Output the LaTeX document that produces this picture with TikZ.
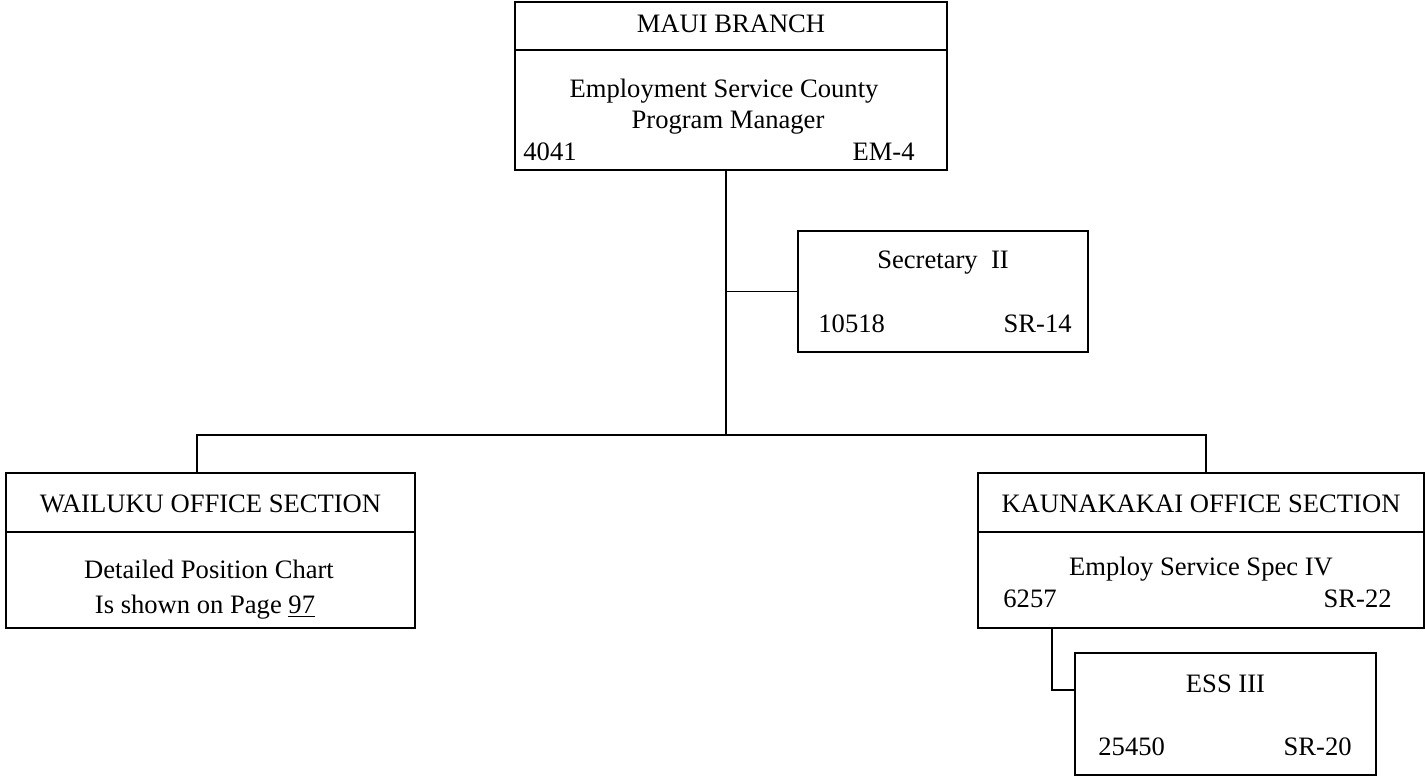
\documentclass[tikz,border=0pt]{standalone}
\usepackage{fontspec}
\setmainfont{Liberation Serif}
\usetikzlibrary{calc}
\tikzset{
    box/.style={draw,line width=1.1pt,inner sep=0pt,outer sep=0pt},
    tx/.style={inner sep=0pt,font=\fontsize{13.3}{16}\selectfont},
    link/.style={draw,line width=0.8pt},
    divide/.style={line width=0.9pt},
}

\begin{document}
\begin{tikzpicture}[x=0.5pt,y=-0.5pt]
\useasboundingbox (0,0) rectangle (1425,778);
% boxes
\node[box, minimum width=216pt, minimum height=84pt] (maui) at (731,86) {};
\node[box, minimum width=145pt, minimum height=60.5pt] (sec) at (943,291.5) {};
\node[box, minimum width=204.5pt, minimum height=77.5pt] (wai) at (210.5,550.5) {};
\node[box, minimum width=223pt, minimum height=77.5pt] (kau) at (1201,550.5) {};
\node[box, minimum width=150.5pt, minimum height=61pt] (ess) at (1225.5,714) {};
\draw[divide] (maui.west |- 0,50) -- (maui.east |- 0,50);
\draw[divide] (wai.west |- 0,532) -- (wai.east |- 0,532);
\draw[divide] (kau.west |- 0,532) -- (kau.east |- 0,532);
% texts
\node[tx, anchor=base] (mauiT) at (731,32) {MAUI BRANCH};
\node[tx, anchor=base] (mauiA) at (724,97) {Employment Service County};
\node[tx, anchor=base] (mauiB) at (728,128) {Program Manager};
\node[tx, anchor=base west] (mauiN) at (523,160) {4041};
\node[tx, anchor=base east] (mauiG) at (915,160) {EM-4};
\node[tx, anchor=base] (secT) at (943,268) {Secretary\ \ II};
\node[tx, anchor=base west] (secN) at (818,332) {10518};
\node[tx, anchor=base east] (secG) at (1072,332) {SR-14};
\node[tx, anchor=base] (waiT) at (210.5,512) {WAILUKU OFFICE SECTION};
\node[tx, anchor=base] (waiA) at (209,578) {Detailed Position Chart};
\node[tx, anchor=base] (waiB) at (205,613) {Is shown on Page \underline{97}};
\node[tx, anchor=base] (kauT) at (1201,512) {KAUNAKAKAI OFFICE SECTION};
\node[tx, anchor=base] (kauA) at (1201,575) {Employ Service Spec IV};
\node[tx, anchor=base west] (kauN) at (1003,607) {6257};
\node[tx, anchor=base east] (kauG) at (1392,607) {SR-22};
\node[tx, anchor=base] (essT) at (1225.5,692) {ESS III};
\node[tx, anchor=base west] (essN) at (1098,755) {25450};
\node[tx, anchor=base east] (essG) at (1352,755) {SR-20};
% connectors
\coordinate (trunk) at (726,435);
\coordinate (wl) at (197,435);
\coordinate (kr) at (1206,435);
\coordinate (ek) at (1052,690);
\path[link]
    (maui.south -| trunk) -- (trunk)
    (trunk |- sec.west) -- (sec.west)
    (wai.north -| wl) -- (wl) -- (kr) -- (kau.north -| kr)
    (kau.south -| ek) -- (ek) -- (ess.west |- ek)
;
\end{tikzpicture}
\end{document}
